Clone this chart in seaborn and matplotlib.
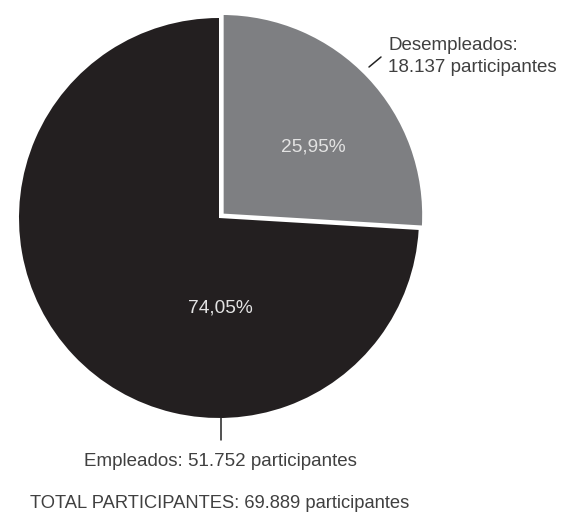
import matplotlib
matplotlib.use("Agg")
import matplotlib.pyplot as plt
import seaborn as sns

categorias = ["Desempleados", "Empleados"]
participantes = [18137, 51752]
colores = ["#7e7f82", "#231f20"]

sns.set_theme(style="white")
plt.rcParams['font.family'] = ['Liberation Sans', 'DejaVu Sans']

W, H = 567, 517
fig = plt.figure(figsize=(W / 100, H / 100), dpi=100)
ax = fig.add_axes([0, 0, 1, 1])

def Y(y):
    # coordenadas de imagen (y hacia abajo)
    return H - y

total = sum(participantes)
cx, cy, r = 219, Y(218), 200

# explode va en unidades de datos (px aqui)
wedges, _ = ax.pie(participantes, colors=colores, startangle=90, counterclock=False,
                   explode=[4, 0], center=(cx, cy), radius=r,
                   wedgeprops=dict(edgecolor='white', linewidth=0))
wedges[0].set_radius(r + 2)
wedges[0].set_edgecolor('white')
wedges[0].set_linewidth(2.5)
wedges[0].set_zorder(3)

# la tarta cambia los limites: fijarlos despues
ax.set_xlim(0, W)
ax.set_ylim(0, H)
ax.set_aspect('equal')
ax.axis('off')

pct = [p / total * 100 for p in participantes]
ax.text(313, Y(147), f"{pct[0]:.2f}%".replace('.', ','), color='#e3e3e3',
        fontsize=13.8, ha='center', va='center', zorder=5)
ax.text(220, Y(308), f"{pct[1]:.2f}%".replace('.', ','), color='#e3e3e3',
        fontsize=13.8, ha='center', va='center', zorder=5)

txt = '#404040'
fs = 13.5
fmt = lambda n: f"{n:,}".replace(',', '.')
ax.plot([369, 381], [Y(67), Y(57)], color='#222222', lw=1.1)
ax.text(388, Y(45), f"{categorias[0]}:", color=txt, fontsize=fs, ha='left', va='center')
ax.text(388, Y(68), f"{fmt(participantes[0])} participantes", color=txt, fontsize=fs,
        ha='left', va='center')

ax.plot([221, 221], [Y(418), Y(440)], color='#222222', lw=1.1)
ax.text(220, Y(461), f"{categorias[1]}: {fmt(participantes[1])} participantes", color=txt,
        fontsize=fs, ha='center', va='center')

ax.text(30, Y(503), f"TOTAL PARTICIPANTES: {fmt(total)} participantes", color=txt,
        fontsize=13.2, ha='left', va='center')

plt.savefig("out.png", dpi=100, facecolor='white')
